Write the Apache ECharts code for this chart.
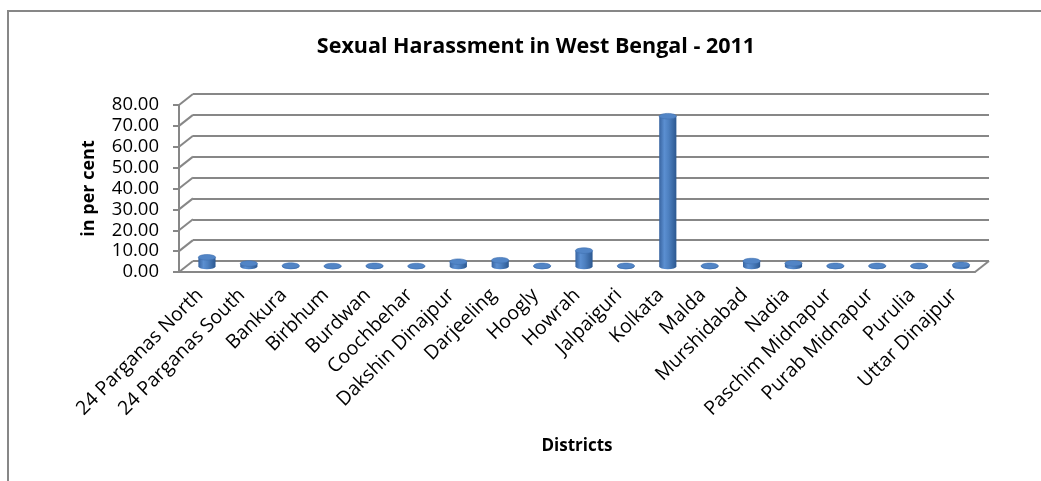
<!DOCTYPE html>
<html>
<head>
<meta charset="utf-8">
<title>Sexual Harassment in West Bengal - 2011</title>
<script src="https://cdn.jsdelivr.net/npm/echarts@6/dist/echarts.min.js"></script>
<style>
  html, body { margin: 0; padding: 0; background: #ffffff; }
  #chart { width: 1041px; height: 481px; }
</style>
</head>
<body>
<div id="chart"></div>
<script>
// Districts of West Bengal and their share (in per cent) of sexual harassment cases, 2011
const districts = [
  '24 Parganas North', '24 Parganas South', 'Bankura', 'Birbhum', 'Burdwan',
  'Coochbehar', 'Dakshin Dinajpur', 'Darjeeling', 'Hoogly', 'Howrah',
  'Jalpaiguri', 'Kolkata', 'Malda', 'Murshidabad', 'Nadia',
  'Paschim Midnapur', 'Purab Midnapur', 'Purulia', 'Uttar Dinajpur'
];
const harassmentShare = [
  4.4, 1.4, 0.4, 0.2, 0.3,
  0.2, 2.3, 3.0, 0.3, 7.6,
  0.3, 72.0, 0.3, 2.6, 1.5,
  0.3, 0.3, 0.3, 0.8
];
const yTicks = [0, 10, 20, 30, 40, 50, 60, 70, 80];

// Pseudo-3D depth: the back wall sits up and to the right of the front plane
const DEPTH_X = 14;
const DEPTH_Y = -11;
const AXIS_GRAY = '#878787';
const FONT = '"Open Sans", "Noto Sans", sans-serif';

const chart = echarts.init(document.getElementById('chart'), null, { renderer: 'canvas' });

// Side-wall lines running from each front tick to the back wall, plus the floor's right edge
function renderWalls(params, api) {
  const v = api.value(1);
  const cs = params.coordSys;
  const y = api.coord([0, v])[1];
  const style = { stroke: AXIS_GRAY, lineWidth: 2 };
  const children = [{
    type: 'line',
    shape: { x1: cs.x, y1: y, x2: cs.x + DEPTH_X, y2: y + DEPTH_Y },
    style: style
  }];
  if (v === yTicks[0]) {
    children.push({
      type: 'line',
      shape: { x1: cs.x + cs.width, y1: y, x2: cs.x + cs.width + DEPTH_X, y2: y + DEPTH_Y },
      style: style
    });
  }
  return { type: 'group', children: children };
}

// Cylinder column standing at mid-depth between the front plane and the back wall
function renderCylinder(params, api) {
  const i = api.value(0);
  const v = api.value(1);
  const top = api.coord([i, v]);
  const base = api.coord([i, 0]);
  const w = api.size([1, 0])[0] * 0.41;
  const rx = w / 2;
  const ry = 2.8;
  const cx = top[0] + DEPTH_X / 2;
  const ty = top[1] + DEPTH_Y / 2;
  const by = base[1] + DEPTH_Y / 2;
  const l = cx - rx;
  const r = cx + rx;
  const bodyFill = new echarts.graphic.LinearGradient(0, 0, 1, 0, [
    { offset: 0, color: '#3864a0' },
    { offset: 0.3, color: '#5b8fd1' },
    { offset: 0.55, color: '#4d80c0' },
    { offset: 1, color: '#2c5890' }
  ]);
  return {
    type: 'group',
    children: [
      {
        type: 'path',
        shape: {
          pathData: 'M' + l + ' ' + ty + ' L' + l + ' ' + by +
            ' A' + rx + ' ' + ry + ' 0 0 0 ' + r + ' ' + by +
            ' L' + r + ' ' + ty + ' Z'
        },
        style: { fill: bodyFill }
      },
      {
        type: 'ellipse',
        shape: { cx: cx, cy: ty, rx: rx, ry: ry },
        style: { fill: '#5285c6', stroke: '#3f70b0', lineWidth: 0.6 }
      }
    ]
  };
}

const yMin = yTicks[0];
const yMax = yTicks[yTicks.length - 1];
const yStep = yTicks[1] - yTicks[0];

chart.setOption({
  backgroundColor: '#ffffff',
  animation: false,
  title: {
    text: 'Sexual Harassment in West Bengal - 2011',
    left: 531,
    top: 31,
    textAlign: 'center',
    textStyle: { fontFamily: FONT, fontSize: 21.5, fontWeight: 'bold', color: '#000000' }
  },
  graphic: [{
    type: 'rect',
    shape: { x: 8, y: 11, width: 1200, height: 700 },
    style: { fill: 'none', stroke: AXIS_GRAY, lineWidth: 2 },
    silent: true,
    z: -10
  }],
  grid: [
    // front plane
    { left: 179, right: 66, top: 105, bottom: 209 },
    // back wall
    { left: 179 + DEPTH_X, right: 66 - DEPTH_X, top: 105 + DEPTH_Y, bottom: 209 - DEPTH_Y }
  ],
  xAxis: [
    {
      type: 'category',
      gridIndex: 0,
      data: districts,
      name: 'Districts',
      nameLocation: 'middle',
      nameGap: 166,
      nameTextStyle: { fontFamily: FONT, fontSize: 17, fontWeight: 'bold', color: '#000000' },
      axisLine: { show: true, lineStyle: { color: AXIS_GRAY, width: 2 } },
      axisTick: { show: false },
      axisLabel: {
        interval: 0,
        rotate: 45,
        margin: 20,
        fontFamily: FONT,
        fontSize: 19.5,
        color: '#000000'
      },
      splitLine: { show: false }
    },
    {
      type: 'category',
      gridIndex: 1,
      data: districts,
      show: false
    }
  ],
  yAxis: [
    {
      type: 'value',
      gridIndex: 0,
      min: yMin,
      max: yMax,
      interval: yStep,
      name: 'in per cent',
      nameLocation: 'middle',
      nameGap: 81,
      nameTextStyle: { fontFamily: FONT, fontSize: 18, fontWeight: 'bold', color: '#000000' },
      axisLine: { show: true, lineStyle: { color: AXIS_GRAY, width: 2 } },
      axisTick: { show: true, length: 6, lineStyle: { color: AXIS_GRAY, width: 2 } },
      axisLabel: {
        margin: 20,
        fontFamily: FONT,
        fontSize: 18.5,
        color: '#000000',
        formatter: function (v) { return v.toFixed(2); }
      },
      splitLine: { show: false }
    },
    {
      type: 'value',
      gridIndex: 1,
      min: yMin,
      max: yMax,
      interval: yStep,
      axisLine: { show: false },
      axisTick: { show: false },
      axisLabel: { show: false },
      splitLine: { show: true, lineStyle: { color: AXIS_GRAY, width: 2 } }
    }
  ],
  series: [
    {
      name: 'walls',
      type: 'custom',
      xAxisIndex: 0,
      yAxisIndex: 0,
      silent: true,
      z: 1,
      renderItem: renderWalls,
      encode: { x: 0, y: 1 },
      data: yTicks.map(function (t) { return [0, t]; })
    },
    {
      name: 'Sexual Harassment',
      type: 'custom',
      xAxisIndex: 0,
      yAxisIndex: 0,
      z: 3,
      renderItem: renderCylinder,
      encode: { x: 0, y: 1 },
      data: harassmentShare.map(function (v, i) { return [i, v]; })
    }
  ]
});
</script>
</body>
</html>
